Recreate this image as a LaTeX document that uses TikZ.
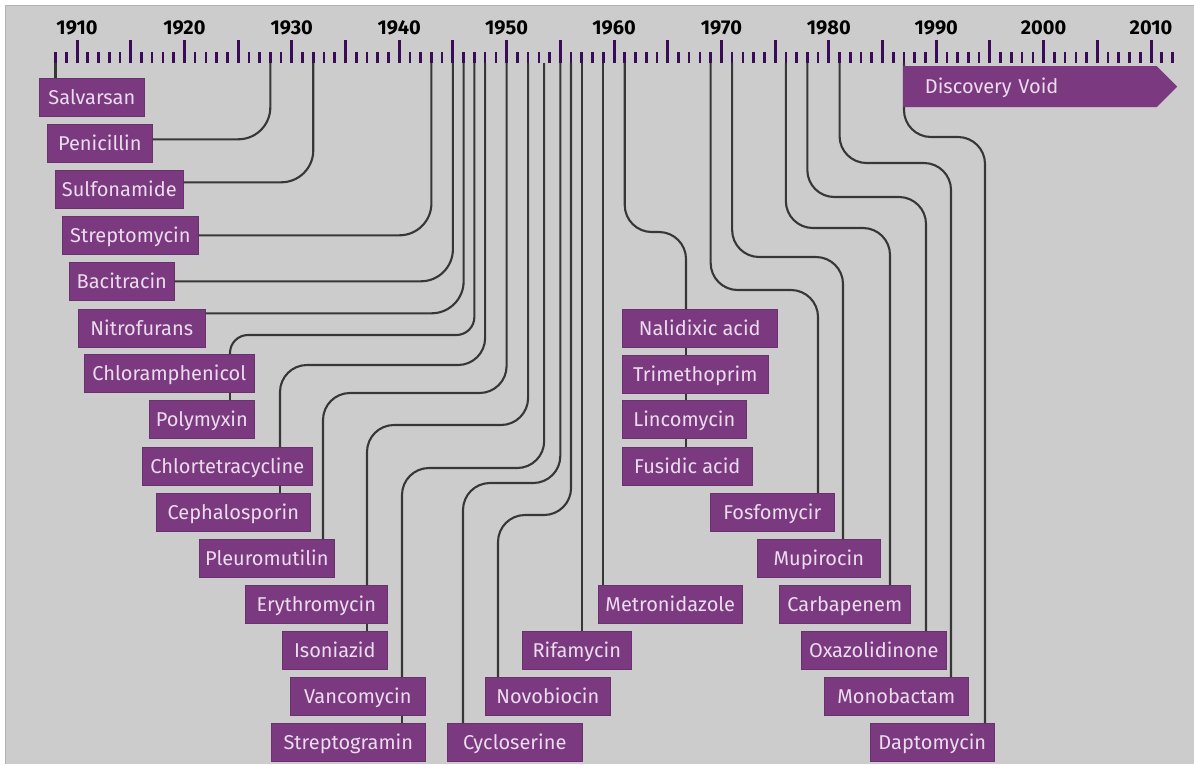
\documentclass[tikz,border=0pt]{standalone}
\usepackage{fontspec}
\setmainfont{Fira Sans}
\usepackage{tikz}
\usetikzlibrary{shapes.symbols}

\definecolor{bggray}{RGB}{204,204,204}
\definecolor{drugpurple}{RGB}{123,58,128}
\definecolor{drugtext}{RGB}{234,220,236}
\definecolor{tickpurple}{RGB}{58,12,88}
\definecolor{linkgray}{RGB}{55,55,55}

\begin{document}
\begin{tikzpicture}[
    x=1pt, y=-1pt,
    drug/.style={rectangle, anchor=north west, fill=drugpurple, draw=drugpurple!85!black, line width=0.6pt, text=drugtext, minimum width=#1, minimum height=38pt, inner sep=0pt, text height=13.5pt, text depth=0pt, font=\fontsize{20}{20}\selectfont},
    drug/.default={105pt},
    voidbox/.style={signal, signal to=east, signal from=nowhere, signal pointer angle=90, anchor=north west, fill=drugpurple, text=drugtext, minimum width=274pt, minimum height=41pt, text width=210pt, align=left, inner sep=0pt, text height=13.5pt, text depth=0pt, font=\fontsize{20}{20}\selectfont},
    yearlbl/.style={inner sep=0pt, text height=14pt, text depth=0pt, font=\bfseries\fontsize{20}{20}\selectfont},
    link/.style={draw=linkgray, line width=2.1pt, rounded corners=#1},
    link/.default={27pt},
    majtick/.style={draw=tickpurple, line width=3pt},
    mintick/.style={draw=tickpurple, line width=2.6pt}
]
\useasboundingbox (0,0) rectangle (1194,764);
\fill[white] (0,0) rectangle (1194,764);
\fill[bggray] (5,5) rectangle (1194,764);
\draw[gray!60, line width=1pt] (5,764) -- (5,5) -- (1194,5);

% === TIME AXIS ===
\foreach \yr in {1908,...,2012}
    \coordinate (t\yr) at ({77+(\yr-1910)*10.74},63);
\coordinate (t1953h) at ({77+43.5*10.74},63);
\foreach \yr in {1908,...,2012}
    \draw[mintick] (t\yr) -- ++(0,-11);
\foreach \yr in {1910,1915,...,2010}
    \draw[majtick] (t\yr) -- ++(0,-23);
\foreach \yr in {1910,1920,...,2010}
    \node[yearlbl] (y\yr) at ({77+(\yr-1910)*10.74},27.5) {\yr};

% === LEFT COLUMN ===
\node[drug=105pt] (salv) at (39,78) {Salvarsan};
\node[drug=105pt] (peni) at (47,124) {Penicillin};
\node[drug=128pt] (sulf) at (55,170) {Sulfonamide};
\node[drug=136pt] (strp) at (62,216) {Streptomycin};
\node[drug=105pt] (baci) at (69,262) {Bacitracin};
\node[drug=127pt] (nitr) at (78,309) {Nitrofurans};
\node[drug=170pt] (chlo) at (84,354) {Chloramphenicol};
\node[drug=105pt] (poly) at (149,400) {Polymyxin};
\node[drug=170pt] (chlt) at (142,447) {Chlortetracycline};
\node[drug=154pt] (ceph) at (156,493) {Cephalosporin};
\node[drug=135pt] (pleu) at (199,539) {Pleuromutilin};
\node[drug=142pt] (eryt) at (245,585) {Erythromycin};
\node[drug=105pt] (ison) at (282,631) {Isoniazid};
\node[drug=135pt] (vanc) at (290,677) {Vancomycin};
\node[drug=154pt] (stpg) at (271,723) {Streptogramin};

% === MIDDLE ===
\node[drug=135pt] (cycl) at (447,723) {Cycloserine};
\node[drug=125pt] (novo) at (485,677) {Novobiocin};
\node[drug=109pt] (rifa) at (522,631) {Rifamycin};
\node[drug=144pt] (metr) at (598,585) {Metronidazole};
\node[drug=155pt] (nali) at (622,309) {Nalidixic acid};
\node[drug=146pt] (trim) at (622,355) {Trimethoprim};
\node[drug=124pt] (linc) at (622,400) {Lincomycin};
\node[drug=130pt] (fusi) at (622,447) {Fusidic acid};

% === RIGHT COLUMN ===
\node[drug=124pt] (fosf) at (710,493) {Fosfomycir};
\node[drug=123pt] (mupi) at (757,539) {Mupirocin};
\node[drug=131pt] (carb) at (779,585) {Carbapenem};
\node[drug=145pt] (oxaz) at (801,631) {Oxazolidinone};
\node[drug=144pt] (mono) at (824,677) {Monobactam};
\node[drug=124pt] (dapt) at (870,723) {Daptomycin};

% === CONNECTORS ===
\draw[link] (t1908) -- (t1908 |- salv.north);
\draw[link=32pt] (t1928) |- ([yshift=4pt]peni.east);
\draw[link=32pt] (t1932) |- ([yshift=7pt]sulf.east);
\draw[link=32pt] (t1943) |- (strp.east);
\draw[link=32pt] (t1945) |- (baci.east);
\draw[link=32pt] (t1946) |- ([yshift=15pt]nitr.east);

\draw[link=18pt] (t1947) |- ([xshift=146pt,yshift=19pt]chlo.north west) -- ([xshift=146pt]chlo.north west);
\draw[link] ([xshift=146pt]chlo.south west) -- ([xshift=81pt]poly.north west);
\draw[link] (t1948) |- ([xshift=138pt,yshift=82pt]chlt.north west) -- ([xshift=138pt]chlt.north west);
\draw[link] ([xshift=138pt]chlt.south west) -- ([xshift=124pt]ceph.north west);
\draw[link] (t1950) |- ([xshift=124pt,yshift=146pt]pleu.north west) -- ([xshift=124pt]pleu.north west);
\draw[link] (t1952) |- ([xshift=122pt,yshift=160pt]eryt.north west) -- ([xshift=122pt]eryt.north west);
\draw[link] ([xshift=122pt]eryt.south west) -- ([xshift=85pt]ison.north west);
\draw[link] (t1953h) |- ([xshift=112pt,yshift=209pt]vanc.north west) -- ([xshift=112pt]vanc.north west);
\draw[link] ([xshift=112pt]vanc.south west) -- ([xshift=131pt]stpg.north west);
\draw[link] (t1955) |- ([xshift=16pt,yshift=240pt]cycl.north west) -- ([xshift=16pt]cycl.north west);
\draw[link] (t1956) |- ([xshift=13pt,yshift=162pt]novo.north west) -- ([xshift=13pt]novo.north west);
\draw[link] (t1957) -- (t1957 |- rifa.north);
\draw[link] (t1959) -- (t1959 |- metr.north);

\draw[link] (t1961) |- ([xshift=64pt,yshift=77pt]nali.north west) -- ([xshift=64pt]nali.north west);
\draw[link] ([xshift=64pt]nali.south west) -- ([xshift=64pt]trim.north west);
\draw[link] ([xshift=64pt]trim.south west) -- ([xshift=64pt]linc.north west);
\draw[link] ([xshift=64pt]linc.south west) -- ([xshift=64pt]fusi.north west);

\draw[link] (t1969) |- ([xshift=108pt,yshift=203pt]fosf.north west) -- ([xshift=108pt]fosf.north west);
\draw[link] (t1971) |- ([xshift=86pt,yshift=282pt]mupi.north west) -- ([xshift=86pt]mupi.north west);
\draw[link] (t1976) |- ([xshift=111pt,yshift=357pt]carb.north west) -- ([xshift=111pt]carb.north west);
\draw[link] (t1978) |- ([xshift=125pt,yshift=434pt]oxaz.north west) -- ([xshift=125pt]oxaz.north west);
\draw[link] (t1981) |- ([xshift=127pt,yshift=514pt]mono.north west) -- ([xshift=127pt]mono.north west);
\draw[link] (t1987) |- ([xshift=115pt,yshift=586pt]dapt.north west) -- ([xshift=115pt]dapt.north west);

% === DISCOVERY VOID ===
\node[voidbox] (void) at (903,66) {Discovery Void};

\end{tikzpicture}
\end{document}
